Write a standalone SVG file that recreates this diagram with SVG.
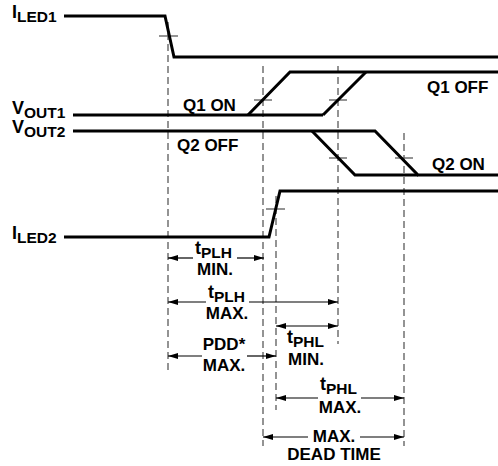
<svg xmlns="http://www.w3.org/2000/svg" width="498" height="466" viewBox="0 0 498 466">
<style>
text{font-family:"Liberation Sans",Arial,sans-serif;font-weight:bold;fill:#000}
.m{font-size:17px}
.b{font-size:18px}
.s{font-size:15.5px}
.c{text-anchor:middle}
.sig{fill:none;stroke:#000;stroke-width:3;stroke-linejoin:miter}
.dash{fill:none;stroke:#666;stroke-width:1.4;stroke-dasharray:7,4}
.tick{stroke:#666;stroke-width:1.4}
.dim{fill:none;stroke:#000;stroke-width:1.2}
</style>
<defs>
<marker id="ah" viewBox="0 0 10 6" refX="10" refY="3" markerWidth="10" markerHeight="6" markerUnits="userSpaceOnUse" orient="auto-start-reverse">
<path d="M0,0 L10,3 L0,6 Z" fill="#000"/>
</marker>
</defs>
<rect width="498" height="466" fill="#fff"/>
<g id="connectors">
<line class="dash" x1="168" y1="22" x2="168" y2="370"/>
<line class="dash" x1="263" y1="66" x2="263" y2="446"/>
<line class="dash" x1="338" y1="66" x2="338" y2="344"/>
<line class="dash" x1="404" y1="133" x2="404" y2="446"/>
<line class="dash" x1="276" y1="196" x2="276" y2="410"/>
<line class="tick" x1="159" y1="36" x2="178" y2="36"/>
<line class="tick" x1="254" y1="100" x2="272" y2="100"/>
<line class="tick" x1="329" y1="100" x2="347" y2="100"/>
<line class="tick" x1="329" y1="158" x2="347" y2="158"/>
<line class="tick" x1="395" y1="158" x2="413" y2="158"/>
<line class="tick" x1="266" y1="209" x2="285" y2="209"/>
<line class="dim" x1="193" y1="258" x2="168" y2="258" marker-end="url(#ah)"/>
<line class="dim" x1="237" y1="258" x2="264" y2="258" marker-end="url(#ah)"/>
<line class="dim" x1="206" y1="302" x2="168" y2="302" marker-end="url(#ah)"/>
<line class="dim" x1="249" y1="302" x2="338" y2="302" marker-end="url(#ah)"/>
<line class="dim" x1="202" y1="356" x2="168" y2="356" marker-end="url(#ah)"/>
<line class="dim" x1="247" y1="356" x2="276" y2="356" marker-end="url(#ah)"/>
<line class="dim" x1="276" y1="326" x2="338" y2="326" marker-start="url(#ah)" marker-end="url(#ah)"/>
<line class="dim" x1="318" y1="398" x2="276" y2="398" marker-end="url(#ah)"/>
<line class="dim" x1="361" y1="398" x2="404" y2="398" marker-end="url(#ah)"/>
<line class="dim" x1="308" y1="437" x2="263" y2="437" marker-end="url(#ah)"/>
<line class="dim" x1="360" y1="437" x2="404" y2="437" marker-end="url(#ah)"/>
</g>
<g id="iled1">
<polyline class="sig" points="64,16 165,16 174,57 498,57"/>
<text class="b" x="12" y="18">I<tspan class="s" dy="4">LED1</tspan></text>
</g>
<g id="vout1">
<polyline class="sig" points="73,115 323,115"/>
<polyline class="sig" points="248,115 290,72 498,72"/>
<line class="sig" x1="323" y1="115" x2="366" y2="72"/>
<text class="b" x="12" y="114">V<tspan class="s" dy="4">OUT1</tspan></text>
<text class="m" x="183" y="111">Q1 ON</text>
<text class="m" x="427" y="93">Q1 OFF</text>
</g>
<g id="vout2">
<polyline class="sig" points="73,131 375,131 418,175 498,175"/>
<polyline class="sig" points="312,131 355,175 418,175"/>
<text class="b" x="12" y="133">V<tspan class="s" dy="4">OUT2</tspan></text>
<text class="m" x="177" y="151">Q2 OFF</text>
<text class="m" x="432" y="170">Q2 ON</text>
</g>
<g id="iled2">
<polyline class="sig" points="64,237 269,237 280,191 498,191"/>
<text class="b" x="12" y="239">I<tspan class="s" dy="4">LED2</tspan></text>
</g>
<g id="labels">
<text class="b" x="195" y="254">t<tspan class="s" dy="4">PLH</tspan></text>
<text class="m c" x="215" y="275">MIN.</text>
<text class="b" x="208" y="298">t<tspan class="s" dy="4">PLH</tspan></text>
<text class="m c" x="227" y="319">MAX.</text>
<text class="m c" x="224" y="350">PDD*</text>
<text class="m c" x="224" y="371">MAX.</text>
<text class="b" x="287" y="343">t<tspan class="s" dy="4">PHL</tspan></text>
<text class="m c" x="306" y="365">MIN.</text>
<text class="b" x="320" y="390">t<tspan class="s" dy="4">PHL</tspan></text>
<text class="m c" x="340" y="413">MAX.</text>
<text class="m c" x="334" y="442">MAX.</text>
<text class="m c" x="334" y="460">DEAD TIME</text>
</g>
</svg>
